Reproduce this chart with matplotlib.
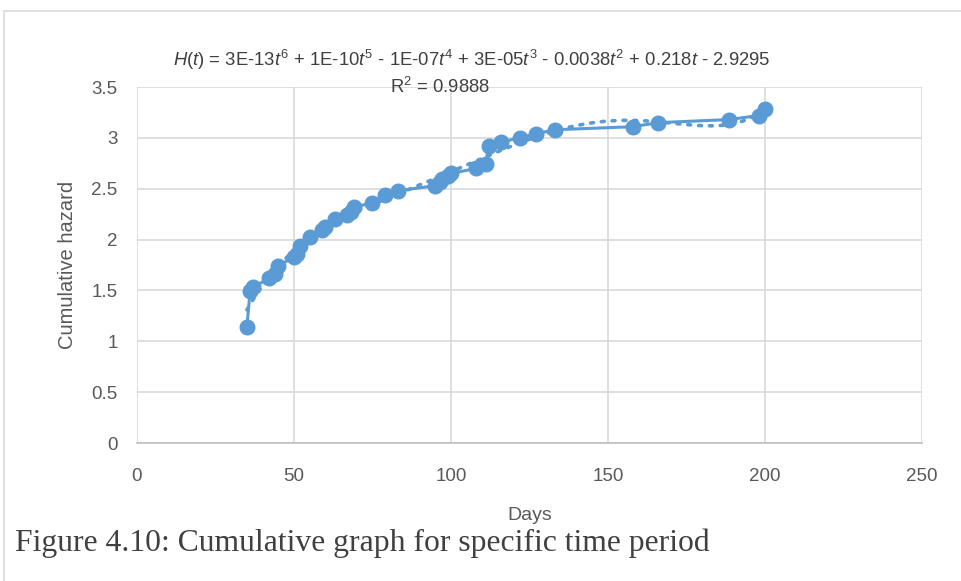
import matplotlib
matplotlib.use("Agg")
import matplotlib.pyplot as plt
import numpy as np
from matplotlib.patches import Rectangle
from matplotlib.ticker import FormatStrFormatter

plt.rcParams["mathtext.fontset"] = "custom"
plt.rcParams["mathtext.rm"] = "Liberation Sans"
plt.rcParams["mathtext.it"] = "Liberation Sans:italic"
plt.rcParams["font.family"] = ["Liberation Sans", "DejaVu Sans"]

# data
days = [35, 36, 37, 42, 44, 45, 50, 51, 52, 55, 59, 60, 63, 67, 68, 69,
        75, 79, 83, 95, 96.5, 97, 99, 100, 108, 111, 112, 116, 122, 127,
        133, 158, 166, 188.5, 198, 200]
hazard = [1.14, 1.49, 1.53, 1.62, 1.66, 1.74, 1.83, 1.86, 1.94, 2.03, 2.09,
          2.12, 2.20, 2.24, 2.27, 2.32, 2.36, 2.44, 2.48, 2.53, 2.57, 2.60,
          2.63, 2.65, 2.70, 2.74, 2.92, 2.96, 3.00, 3.04, 3.08, 3.11, 3.15,
          3.18, 3.22, 3.28]
x_ticks = [0, 50, 100, 150, 200, 250]
y_ticks = [0, 0.5, 1, 1.5, 2, 2.5, 3, 3.5]

blue = "#5b9bd5"
grey_txt = "#595959"
grid_c = "#d9d9d9"

fig = plt.figure(figsize=(9.62, 5.81), dpi=100)
fig.patches.append(Rectangle((4 / 962, -0.1), 1.2, 1.1 - 11 / 581,
                             transform=fig.transFigure, fill=False,
                             edgecolor=grid_c, linewidth=1.2))

ax = fig.add_axes([0.1424, 0.2375, 0.816, 0.6127])

# 6th order polynomial trendline (dotted)
coef = np.polyfit(days, hazard, 6)
tt = np.linspace(min(days), max(days), 300)
ax.plot(tt, np.polyval(coef, tt), linestyle=(0, (0.8, 2.2)), color=blue,
        linewidth=2.6, dash_capstyle="round", zorder=3)

ax.plot(days, hazard, color=blue, linewidth=2.2, marker="o", markersize=10.5,
        zorder=4)

ax.set_xlim(0, 250)
ax.set_ylim(0, 3.5)
ax.set_xticks(x_ticks)
ax.set_yticks(y_ticks)
ax.yaxis.set_major_formatter(FormatStrFormatter("%g"))
ax.grid(True, color=grid_c, linewidth=1.2)
ax.set_axisbelow(True)
for s in ["top", "right", "left"]:
    ax.spines[s].set_visible(False)
ax.spines["bottom"].set_color("#bfbfbf")
ax.spines["bottom"].set_linewidth(1.2)
ax.tick_params(length=0, labelsize=13.5, labelcolor=grey_txt)
ax.tick_params(axis="x", pad=18)
ax.tick_params(axis="y", pad=14)

ax.set_xlabel("Days", fontsize=14, color=grey_txt, labelpad=16)
ax.set_ylabel("Cumulative hazard", fontsize=14.5, color=grey_txt, labelpad=10)

eq = (r"$\it{H}$($\it{t}$) = 3E-13$\it{t}^6$ + 1E-10$\it{t}^5$ - 1E-07$\it{t}^4$"
      r" + 3E-05$\it{t}^3$ - 0.0038$\it{t}^2$ + 0.218$\it{t}$ - 2.9295")
fig.text(472 / 962, 1 - 60 / 581, eq, ha="center", va="center", fontsize=13.3,
         color="#404040")
fig.text(440 / 962, 1 - 87 / 581, r"R$^2$ = 0.9888", ha="center",
         va="center", fontsize=13.3, color="#404040")

fig.text(15 / 962, 1 - 543 / 581,
         "Figure 4.10: Cumulative graph for specific time period",
         ha="left", va="center", fontsize=22.8, color="#404040",
         family="Liberation Serif")

fig.savefig("out.png", dpi=100)
